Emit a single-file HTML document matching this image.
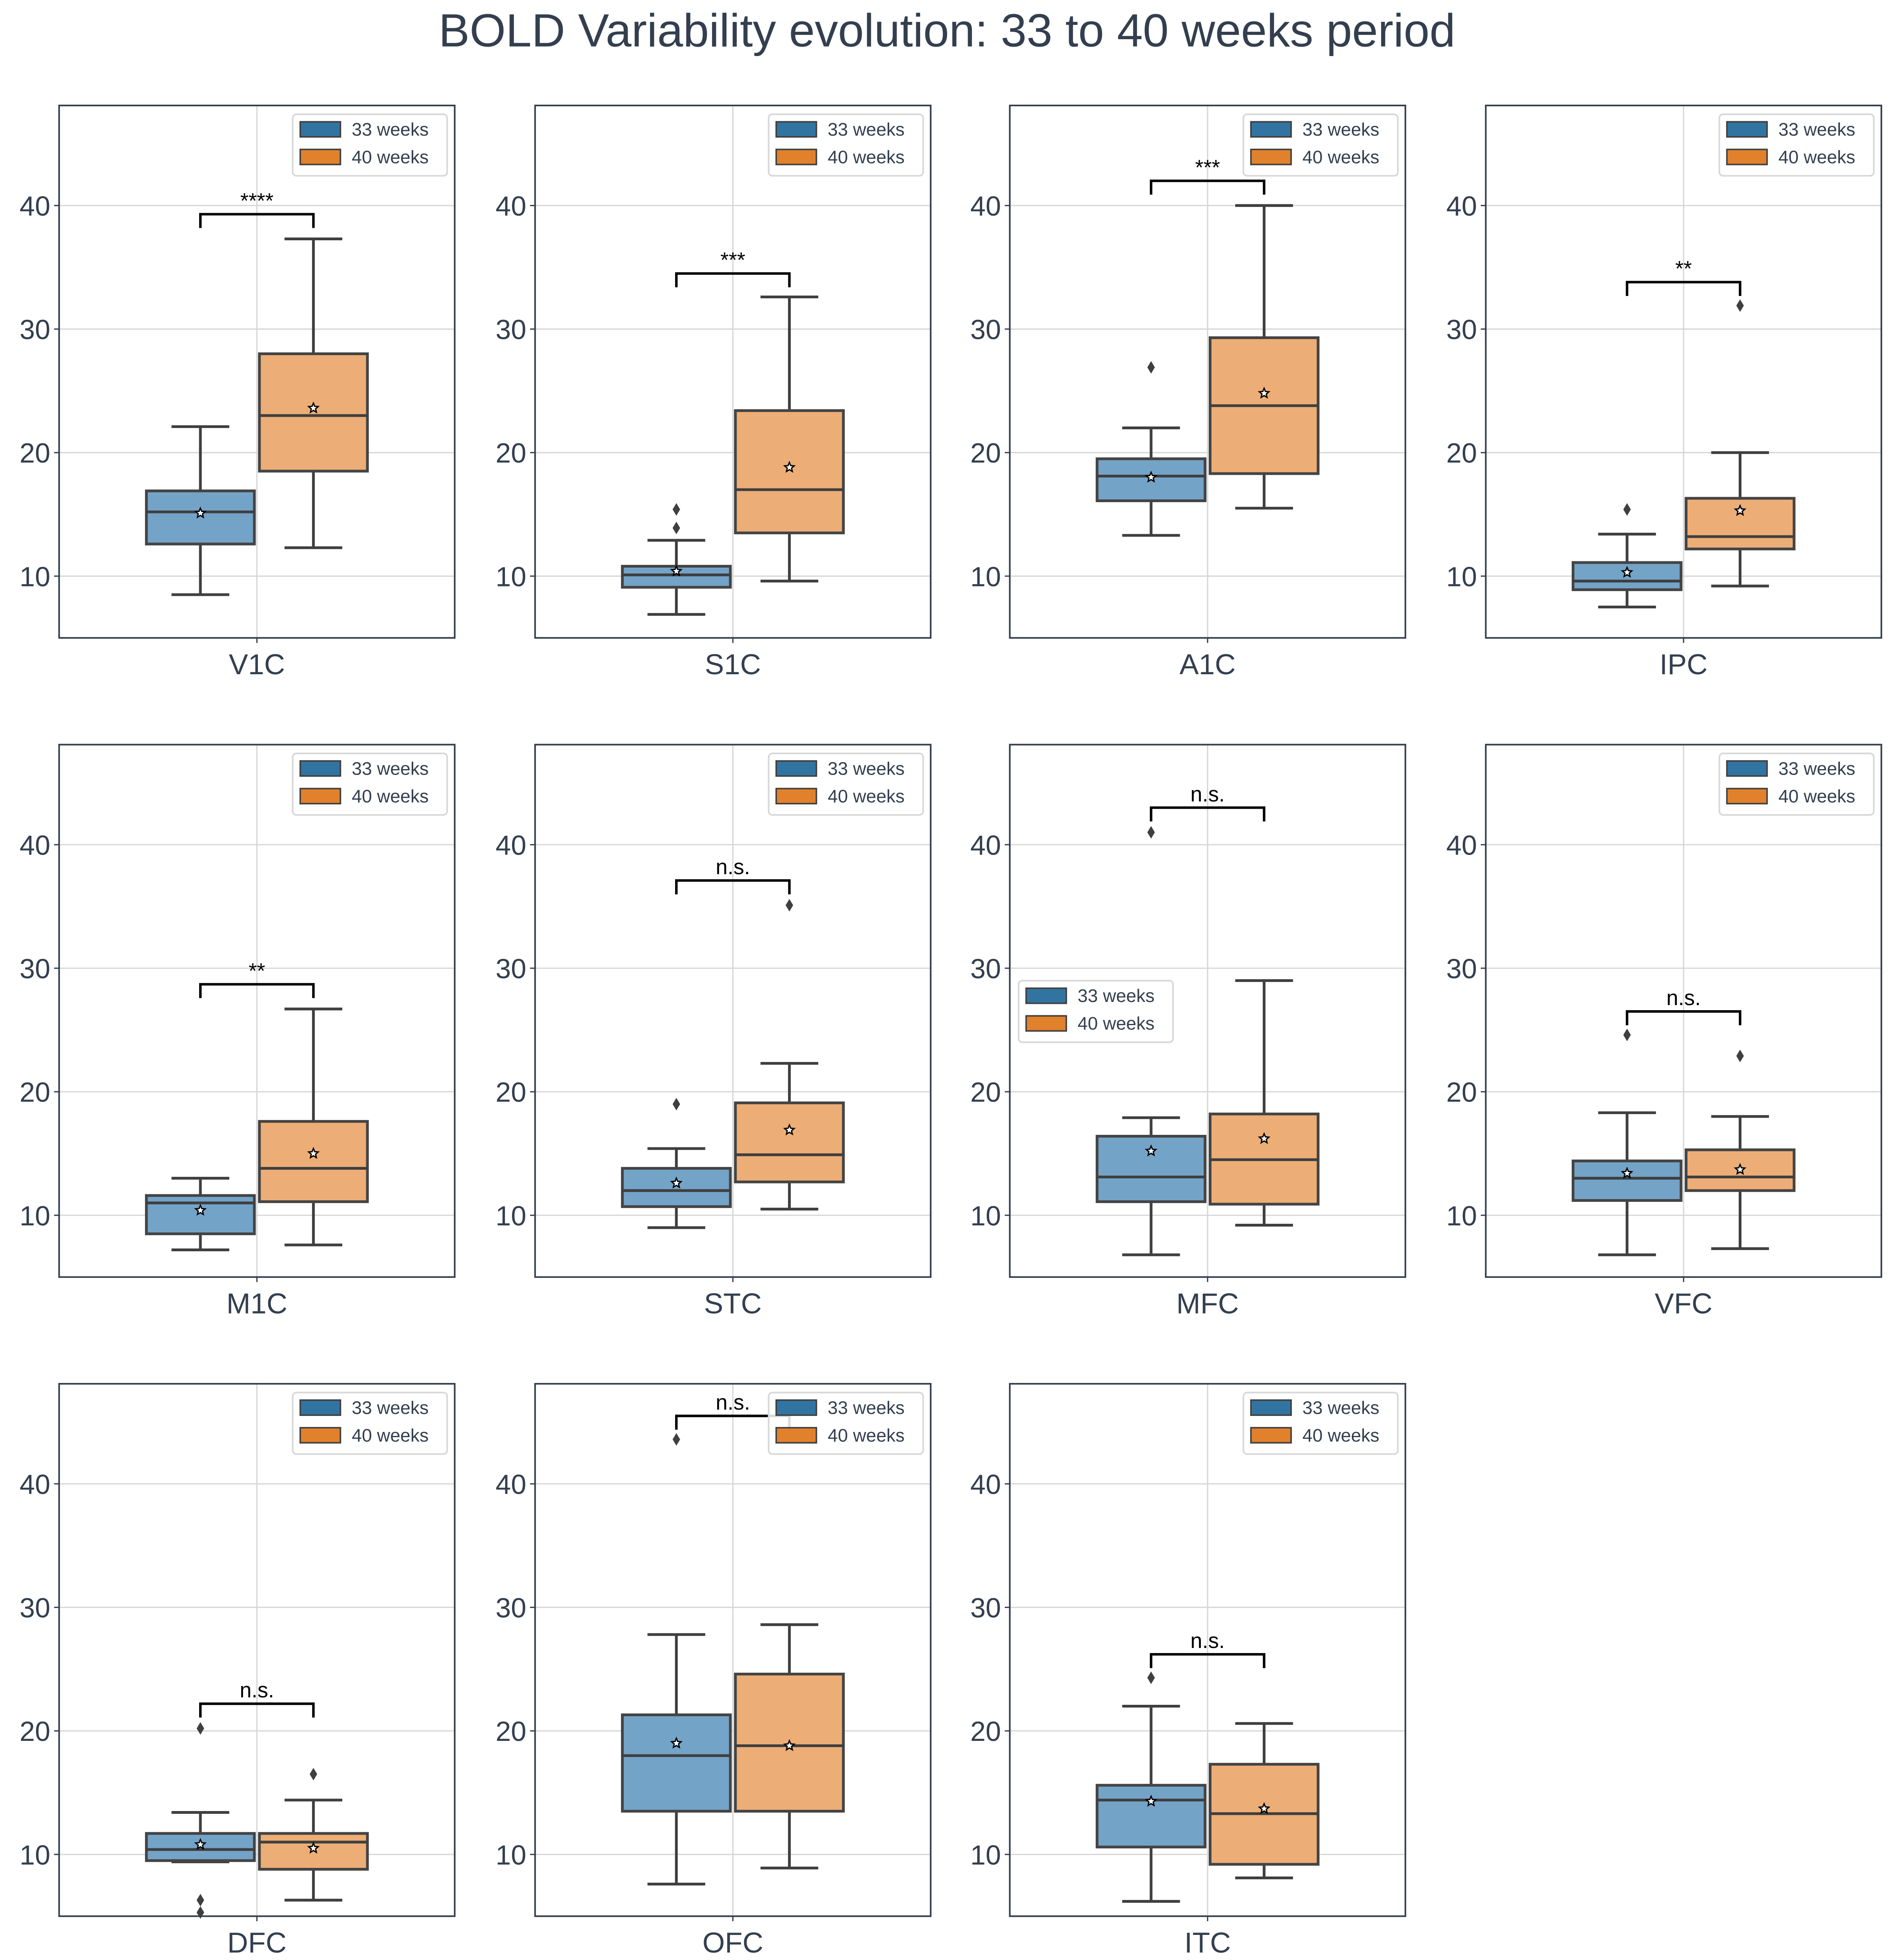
<!DOCTYPE html>
<html><head><meta charset="utf-8"><style>
html,body{margin:0;padding:0;background:#fff;width:4831px;height:5026px;overflow:hidden}
svg{display:block}
text{font-family:"Liberation Sans",sans-serif}
</style></head><body>
<svg id="fig" width="4831" height="5026" viewBox="0 0 1508 1569" xmlns="http://www.w3.org/2000/svg">
<text x="754" y="37" text-anchor="middle" font-size="37" fill="#333f4f">BOLD Variability evolution: 33 to 40 weeks period</text>
</svg>
<script>
const regions = ["V1C","S1C","A1C","IPC","M1C","STC","MFC","VFC","DFC","OFC","ITC"];
// [whislo, q1, median, q3, whishi, mean]
const blueStats = [
 [8.5,12.6,15.2,16.9,22.1,15.1],[6.9,9.1,10.1,10.8,12.9,10.4],[13.3,16.1,18.1,19.5,22.0,18.0],[7.5,8.9,9.6,11.1,13.4,10.3],
 [7.2,8.5,11.0,11.6,13.0,10.4],[9.0,10.7,12.0,13.8,15.4,12.6],[6.8,11.1,13.1,16.4,17.9,15.2],[6.8,11.2,13.0,14.4,18.3,13.4],
 [9.4,9.5,10.4,11.7,13.4,10.8],[7.6,13.5,18.0,21.3,27.8,19.0],[6.2,10.6,14.4,15.6,22.0,14.3]];
const orangeStats = [
 [12.3,18.5,23.0,28.0,37.3,23.6],[9.6,13.5,17.0,23.4,32.6,18.8],[15.5,18.3,23.8,29.3,40.0,24.8],[9.2,12.2,13.2,16.3,20.0,15.3],
 [7.6,11.1,13.8,17.6,26.7,15.0],[10.5,12.7,14.9,19.1,22.3,16.9],[9.2,10.9,14.5,18.2,29.0,16.2],[7.3,12.0,13.1,15.3,18.0,13.7],
 [6.3,8.8,11.0,11.7,14.4,10.5],[8.9,13.5,18.8,24.6,28.6,18.8],[8.1,9.2,13.3,17.3,20.6,13.7]];
const blueOutliers = [[],[13.9,15.4],[26.9],[15.4],[],[19.0],[41.0],[24.6],[20.2,6.3,5.3],[43.6],[24.3]];
const orangeOutliers = [[],[],[],[31.9],[],[35.1],[],[22.9],[16.5],[],[]];
const sigHeights = [39.3,34.5,42.0,33.8,28.7,37.1,43.0,26.5,22.2,45.5,26.2];
const sigLabels = ["****","***","***","**","**","n.s.","n.s.","n.s.","n.s.","n.s.","n.s."];
const yTicks = [10,20,30,40];
const legendLabels = ["33 weeks","40 weeks"];

const NS="http://www.w3.org/2000/svg";
const svg=document.getElementById('fig');
function mk(tag,attrs,parent){const e=document.createElementNS(NS,tag);for(const k in attrs)e.setAttribute(k,attrs[k]);(parent||svg).appendChild(e);return e;}
const colX=[47,426,804,1183], rowY=[84,593,1102], W=315, H=424;
const YMIN=5.0, YMAX=48.1;
regions.forEach((name,i)=>{
  const px=colX[i%4], py=rowY[Math.floor(i/4)];
  const y=v=>py+H-(v-YMIN)/(YMAX-YMIN)*H;
  const cx=px+W/2;
  const g=mk('g',{});
  
  
  yTicks.forEach(t=>{
    const l=mk('line',{x1:px,x2:px+W,y1:y(t),y2:y(t),stroke:'#d6d6d6','stroke-width':1},g);
    
    
    mk('line',{x1:px-4,x2:px,y1:y(t),y2:y(t),stroke:'#333f4f','stroke-width':1},g);
    const tx=mk('text',{x:px-7,y:y(t)+8,'text-anchor':'end','font-size':22,fill:'#333f4f'},g);
    tx.textContent=t;
    
    
  });
  mk('line',{x1:cx,x2:cx,y1:py,y2:py+H,stroke:'#d6d6d6','stroke-width':1},g);
  mk('line',{x1:cx,x2:cx,y1:py+H,y2:py+H+4,stroke:'#333f4f','stroke-width':1},g);
  const xl=mk('text',{x:cx,y:py+H+29,'text-anchor':'middle','font-size':23,fill:'#333f4f'},g);
  xl.textContent=name;
  
  
  [[blueStats[i],blueOutliers[i],'#74a3c8',-45],[orangeStats[i],orangeOutliers[i],'#ecae76',45]].forEach(([s,outs,fill,off],k)=>{
    const bx=cx+off, hw=44, cw=23;
    const bg=mk('g',{},g);
    
    
    const st={stroke:'#3f3f3f','stroke-width':2.2,fill:'none'};
    mk('line',Object.assign({x1:bx,x2:bx,y1:y(s[0]),y2:y(s[1])},st),bg);
    mk('line',Object.assign({x1:bx,x2:bx,y1:y(s[3]),y2:y(s[4])},st),bg);
    mk('line',Object.assign({x1:bx-cw,x2:bx+cw,y1:y(s[0]),y2:y(s[0])},st),bg);
    mk('line',Object.assign({x1:bx-cw,x2:bx+cw,y1:y(s[4]),y2:y(s[4])},st),bg);
    mk('rect',{x:bx-hw+1,y:y(s[3]),width:2*hw-2,height:y(s[1])-y(s[3]),fill:fill,stroke:'#444','stroke-width':2.2},bg);
    mk('line',Object.assign({x1:bx-hw+1,x2:bx+hw-1,y1:y(s[2]),y2:y(s[2])},st),bg);
    const r=4,pts=[];for(let j=0;j<10;j++){const a=-Math.PI/2+j*Math.PI/5,rr=j%2?r*0.45:r;pts.push((bx+rr*Math.cos(a)).toFixed(2)+','+(y(s[5])+rr*Math.sin(a)).toFixed(2));}
    const m=mk('polygon',{points:pts.join(' '),fill:'#fff',stroke:'#000','stroke-width':1},bg);
    
    
    outs.forEach(o=>{
      const d=mk('polygon',{points:`${bx},${y(o)-5} ${bx+3},${y(o)} ${bx},${y(o)+5} ${bx-3},${y(o)}`,fill:'#3f3f3f'},bg);
      
      
    });
  });
  const sy=y(sigHeights[i]);
  const sb=mk('polyline',{points:`${cx-45},${sy+11} ${cx-45},${sy} ${cx+45},${sy} ${cx+45},${sy+11}`,fill:'none',stroke:'#000','stroke-width':2},g);
  
  
  const sl=mk('text',{x:cx,y:sy-5,'text-anchor':'middle','font-size':17,fill:'#000'},g);
  sl.textContent=sigLabels[i];
  
  
  mk('rect',{x:px,y:py,width:W,height:H,fill:'none',stroke:'#333f4f','stroke-width':1.3},g);
  const lx = name==='MFC'? px+7 : px+W-129, ly = name==='MFC'? py+188 : py+7;
  const lg=mk('g',{},g);
  
  
  mk('rect',{x:lx,y:ly,width:123,height:49,rx:3,fill:'#fff','fill-opacity':0.85,stroke:'#d8d8d8','stroke-width':1.3},lg);
  legendLabels.forEach((lab,j)=>{
    const e=mk('g',{},lg);
    
    
    mk('rect',{x:lx+6,y:ly+11+j*22-5,width:32,height:12,fill:j?'#e1812c':'#3274a1',stroke:'#3f3f3f','stroke-width':1.2},e);
    const t=mk('text',{x:lx+47,y:ly+17+j*22,'font-size':14.5,fill:'#333f4f'},e);
    t.textContent=lab;
  });
});
</script>
</body></html>
